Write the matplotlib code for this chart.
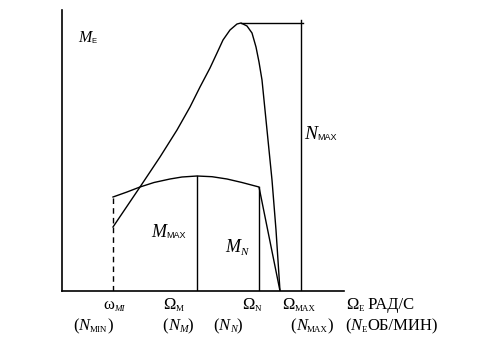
import matplotlib
matplotlib.use('Agg')
import matplotlib.pyplot as plt

plt.rcParams['font.family'] = ['Liberation Serif', 'DejaVu Serif']

# engine speed (arbitrary units) and power curve N_e
speed_power = [51, 78, 98, 115, 128, 138, 148, 155, 161, 168, 175, 179,
               185, 190, 194, 197, 200, 205, 210, 214, 218]
power = [64, 104, 134, 161, 184, 204, 223, 238, 251, 261, 267, 268,
         265, 258, 244, 229, 211, 161, 111, 61, 0]

# torque curve M_e
speed_torque = [51, 65, 78, 92, 108, 120, 135, 150, 165, 180, 197, 218]
torque = [94, 99, 104, 108.5, 112, 114, 115, 114.3, 112, 108.5, 104, 0]

# characteristic speeds
w_min = 51
w_M = 135
w_N = 197
n_max_line = 239
torque_at_min = 94
torque_at_M = 115
torque_at_N = 104
power_max = 268

fig = plt.figure(figsize=(4.88, 3.61), dpi=100)
ax = fig.add_axes([62/488, 70/361, 282/488, 281/361])
ax.set_xlim(0, 282)
ax.set_ylim(0, 281)
for s in ['top', 'right']:
    ax.spines[s].set_visible(False)
for s in ['left', 'bottom']:
    ax.spines[s].set_linewidth(1.2)
ax.set_xticks([])
ax.set_yticks([])

lw = 1.0
ax.plot(speed_power, power, color='black', lw=lw)
ax.plot(speed_torque, torque, color='black', lw=lw)

# vertical and helper lines
ax.plot([w_min, w_min], [0, torque_at_min], color='black', lw=lw, ls=(0, (4, 3)))
ax.plot([w_M, w_M], [0, torque_at_M], color='black', lw=lw)
ax.plot([w_N, w_N], [0, torque_at_N], color='black', lw=lw)
ax.plot([n_max_line, n_max_line], [0, 271], color='black', lw=lw)
ax.plot([179, 241], [power_max, power_max], color='black', lw=lw)

SERIF = 'Liberation Serif'
SANS = 'Liberation Sans'


def chain(x, y, parts):
    # draw pieces of text one after another, each at the right edge of the last
    prev = None
    for s, size, fam, style, dy in parts:
        if prev is None:
            prev = ax.annotate(s, xy=(x, y), xycoords='data', xytext=(0, dy),
                               textcoords='offset points', fontsize=size,
                               family=fam, style=style, va='baseline', ha='left',
                               annotation_clip=False)
        else:
            prev = ax.annotate(s, xy=(1, y), xycoords=(prev, 'data'), xytext=(0, dy),
                               textcoords='offset points', fontsize=size,
                               family=fam, style=style, va='baseline', ha='left',
                               annotation_clip=False)


# labels inside the chart
chain(16, 249, [('M', 11.5, SERIF, 'italic', 0), ('E', 5.5, SANS, 'normal', -1)])
chain(89, 54, [('M', 13, SERIF, 'italic', 0), ('MAX', 6.5, SANS, 'normal', -1)])
chain(163, 39, [('M', 13, SERIF, 'italic', 0), ('N', 8, SERIF, 'italic', -2)])
chain(242, 152, [('N', 14, SERIF, 'italic', 0), ('MAX', 6.5, SANS, 'normal', -1)])

# speed labels below the axis
row1 = -18
row2 = -39
big = 12
small = 6.5
chain(41, row1, [('ω', big, SERIF, 'normal', 0), ('MI', small, SERIF, 'italic', -1.5)])
chain(101, row1, [('Ω', big, SERIF, 'normal', 0), ('M', small, SERIF, 'normal', -1.5)])
chain(180, row1, [('Ω', big, SERIF, 'normal', 0), ('N', small, SERIF, 'normal', -1.5)])
chain(220, row1, [('Ω', big, SERIF, 'normal', 0), ('MAX', small, SERIF, 'normal', -1.5)])
chain(284, row1, [('Ω', big, SERIF, 'normal', 0), ('E', small, SERIF, 'normal', -1.5),
                  (' РАД/С', big, SERIF, 'normal', 0)])

chain(11, row2, [('(', big, SERIF, 'normal', 0), ('N', big, SERIF, 'italic', 0),
                 ('MIN', small, SERIF, 'normal', -1.5), (')', big, SERIF, 'normal', 0)])
chain(100, row2, [('(', big, SERIF, 'normal', 0), ('N', big, SERIF, 'italic', 0),
                  ('M', small + 1, SERIF, 'italic', -1.5), (')', big, SERIF, 'normal', 0)])
chain(151, row2, [('(', big, SERIF, 'normal', 0), ('N', big, SERIF, 'italic', 0),
                  ('N', small + 1, SERIF, 'italic', -1.5), (')', big, SERIF, 'normal', 0)])
chain(228, row2, [('(', big, SERIF, 'normal', 0), ('N', big, SERIF, 'italic', 0),
                  ('MAX', small, SERIF, 'normal', -1.5), (')', big, SERIF, 'normal', 0)])
chain(283, row2, [('(', big, SERIF, 'normal', 0), ('N', big, SERIF, 'italic', 0),
                  ('E', small, SERIF, 'normal', -1.5), ('ОБ/МИН)', big, SERIF, 'normal', 0)])

fig.savefig('out.png', dpi=100)
